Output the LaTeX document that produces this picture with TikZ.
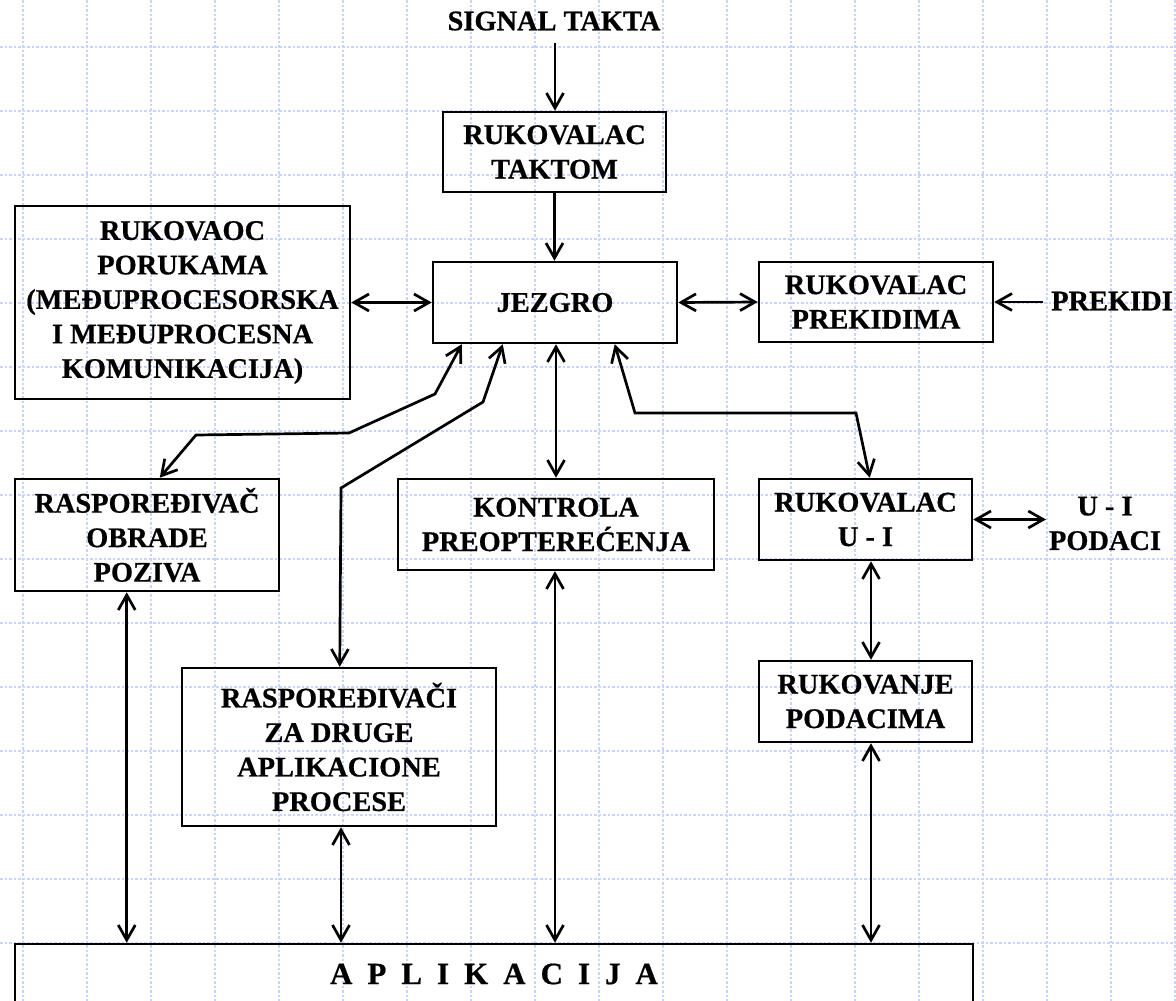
\documentclass[tikz,border=0pt]{standalone}
\usepackage{fontspec}
\setmainfont{Liberation Serif}[BoldFeatures={FakeBold=0.6}]
\usetikzlibrary{arrows.meta,calc}
\definecolor{gridc}{RGB}{200,212,255}
\begin{document}
\begin{tikzpicture}[x=1pt,y=-1pt,
  box/.style={draw, line width=2.5pt, align=center, font=\bfseries\fontsize{28.4}{34.5}\selectfont, inner sep=0pt},
  lbl/.style={align=center, font=\bfseries\fontsize{28.4}{34.5}\selectfont, inner sep=0pt},
  con/.style={line width=2.7pt, -{Straight Barb[length=15pt,width=17pt]}},
  dbl/.style={line width=2.7pt, {Straight Barb[length=15pt,width=17pt]}-{Straight Barb[length=15pt,width=17pt]}},
  gridline/.style={gridc, line width=1.5pt, dash pattern=on 2.5pt off 2pt}
]
\useasboundingbox (0,0) rectangle (1176,1001);
\fill[white] (0,0) rectangle (1176,1001);
\foreach \i in {0,...,18} \draw[gridline] (23+64*\i,0) -- (23+64*\i,1001);
\foreach \j in {0,...,14} \draw[gridline] (0,47+64*\j) -- (1176,47+64*\j);

% boxes
\node[box, minimum width=223pt, minimum height=80pt] (takt) at (554.5,152) {RUKOVALAC\\TAKTOM};
\node[box, minimum width=244pt, minimum height=81pt] (jezgro) at (555,302.5) {JEZGRO};
\node[box, minimum width=335pt, minimum height=193pt] (poruke) at (182.5,302.5) {RUKOVAOC\\PORUKAMA\\(MEĐUPROCESORSKA\\I MEĐUPROCESNA\\KOMUNIKACIJA)};
\node[box, minimum width=234pt, minimum height=80pt] (prek) at (876,302) {RUKOVALAC\\PREKIDIMA};
\node[box, minimum width=264pt, minimum height=112pt] (rasp) at (147,535) {RASPOREĐIVAČ\\OBRADE\\POZIVA};
\node[box, minimum width=316pt, minimum height=91pt] (kontr) at (556,524.5) {KONTROLA\\PREOPTEREĆENJA};
\node[box, minimum width=213pt, minimum height=81pt] (rui) at (865.5,519.5) {RUKOVALAC\\U - I};
\node[box, minimum width=314pt, minimum height=158pt] (raspd) at (339,747) {RASPOREĐIVAČI\\ZA DRUGE\\APLIKACIONE\\PROCESE};
\node[box, minimum width=213pt, minimum height=81pt] (rpod) at (865.5,701.5) {RUKOVANJE\\PODACIMA};
\node[draw, line width=2.5pt, minimum width=958pt, minimum height=120pt, inner sep=0pt] (aplik) at (494,1004) {};
\node[lbl, font=\bfseries\fontsize{31}{36}\selectfont] (apltxt) at (494,974) {\spaceskip=15pt A P L I K A C I J A};

% free labels
\node[lbl] (sig) at (554,21) {SIGNAL TAKTA};
\node[lbl] (prektxt) at (1112,301) {PREKIDI};
\node[lbl] (uitxt) at (1105,523.5) {U - I\\PODACI};

% free ends
\coordinate (sigend) at (555,43);
\coordinate (pkend) at (1043,302);
\coordinate (uiend) at (1046,519.5);

% connectors
\draw[con] (sigend) -- (sigend |- takt.north);
\draw[con] (takt.south) -- (takt.south |- jezgro.north);
\draw[dbl] (poruke.east) -- (jezgro.west);
\draw[dbl] (jezgro.east) -- (prek.west);
\draw[con] (pkend) -- (prek.east);
\draw[dbl] (rui.east) -- (uiend);

\draw[dbl] ([xshift=30pt]jezgro.south west) -- (435,394) -- (349,433) -- (196,435) -- ([xshift=146pt]rasp.north west);
\draw[dbl] ([xshift=71pt]jezgro.south west) -- (483,402) -- (341,488) -- ([xshift=159pt]raspd.north west);
\draw[dbl] ([xshift=183pt]jezgro.south west) -- (635,413) -- (856,413) -- ([xshift=112pt]rui.north west);
\draw[dbl] (kontr.north) -- (kontr.north |- jezgro.south);

\coordinate (r1) at ([xshift=113pt]rasp.south west);
\coordinate (r2) at ([xshift=2pt]raspd.south);
\coordinate (r3) at ([xshift=-1pt]kontr.south);
\coordinate (r4) at ([xshift=5.5pt]rui.south);
\coordinate (r5) at ([xshift=5.5pt]rpod.south);
\draw[dbl] (r1) -- (r1 |- aplik.north);
\draw[dbl] (r2) -- (r2 |- aplik.north);
\draw[dbl] (r3) -- (r3 |- aplik.north);
\draw[dbl] (r4) -- (r4 |- rpod.north);
\draw[dbl] (r5) -- (r5 |- aplik.north);
\end{tikzpicture}
\end{document}
